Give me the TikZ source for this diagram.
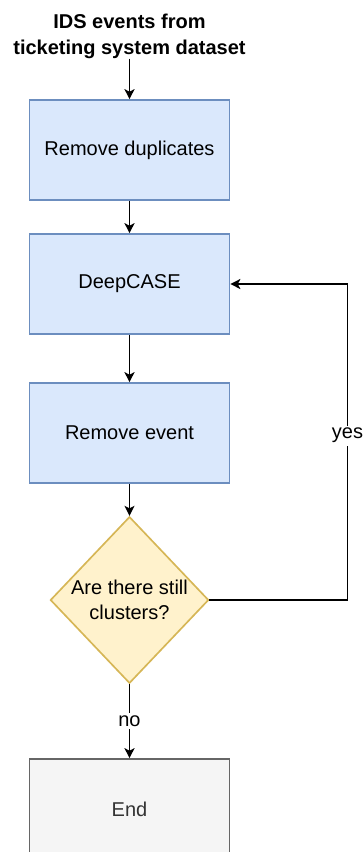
\documentclass[tikz,border=0pt]{standalone}
\usepackage{fontspec}
\setmainfont{Liberation Sans}
\usetikzlibrary{shapes.geometric,arrows.meta}

\definecolor{procfill}{HTML}{DAE8FC}
\definecolor{procline}{HTML}{6C8EBF}
\definecolor{askfill}{HTML}{FFF2CC}
\definecolor{askline}{HTML}{D6B656}
\definecolor{endfill}{HTML}{F5F5F5}
\definecolor{endline}{HTML}{666666}
\definecolor{endtext}{HTML}{333333}

\tikzstyle{txt}=[font=\fontsize{12}{15}\selectfont]
\tikzstyle{source}=[font=\fontsize{12}{15.5}\selectfont\bfseries, align=center, inner sep=0pt]
\tikzstyle{process}=[txt, rectangle, draw=procline, fill=procfill, line width=1pt, minimum width=120pt, minimum height=60pt]
\tikzstyle{decision}=[txt, diamond, draw=askline, fill=askfill, line width=1pt, aspect=0.95, minimum width=95pt, minimum height=100pt, inner sep=0pt, align=center]
\tikzstyle{final}=[txt, rectangle, draw=endline, fill=endfill, text=endtext, line width=1pt, minimum width=120pt, minimum height=60pt]
\tikzstyle{flow}=[-{Stealth[length=6pt,width=6pt,inset=1.5pt]}, line width=1pt]
\tikzstyle{answer}=[txt, fill=white, inner sep=1.5pt]

\begin{document}
\begin{tikzpicture}[x=0.6pt,y=-0.6pt]
            \clip (0,0) rectangle (363,852);
            \node[source] at (129.5,36) (src) {IDS events from\\ticketing system dataset};
            \node[process] at (129.5,150) (dup) {Remove duplicates};
            \node[process] at (129.5,284) (deep) {DeepCASE};
            \node[process] at (129.5,433) (rem) {Remove event};
            \node[decision] at (129.5,600) (check) {Are there still\\clusters?};
            \node[final] at (129.5,809) (stop) {End};
            \draw[flow] (src) -- (dup);
            \draw[flow] (dup) -- (deep);
            \draw[flow] (deep) -- (rem);
            \draw[flow] (rem) -- (check);
            \draw[flow] (check) -- node[answer]{no} (stop);
            \draw[flow] (check.east) -- ++(138,0) |- node[answer, pos=0.26]{yes} (deep.east);
        \end{tikzpicture}
\end{document}
